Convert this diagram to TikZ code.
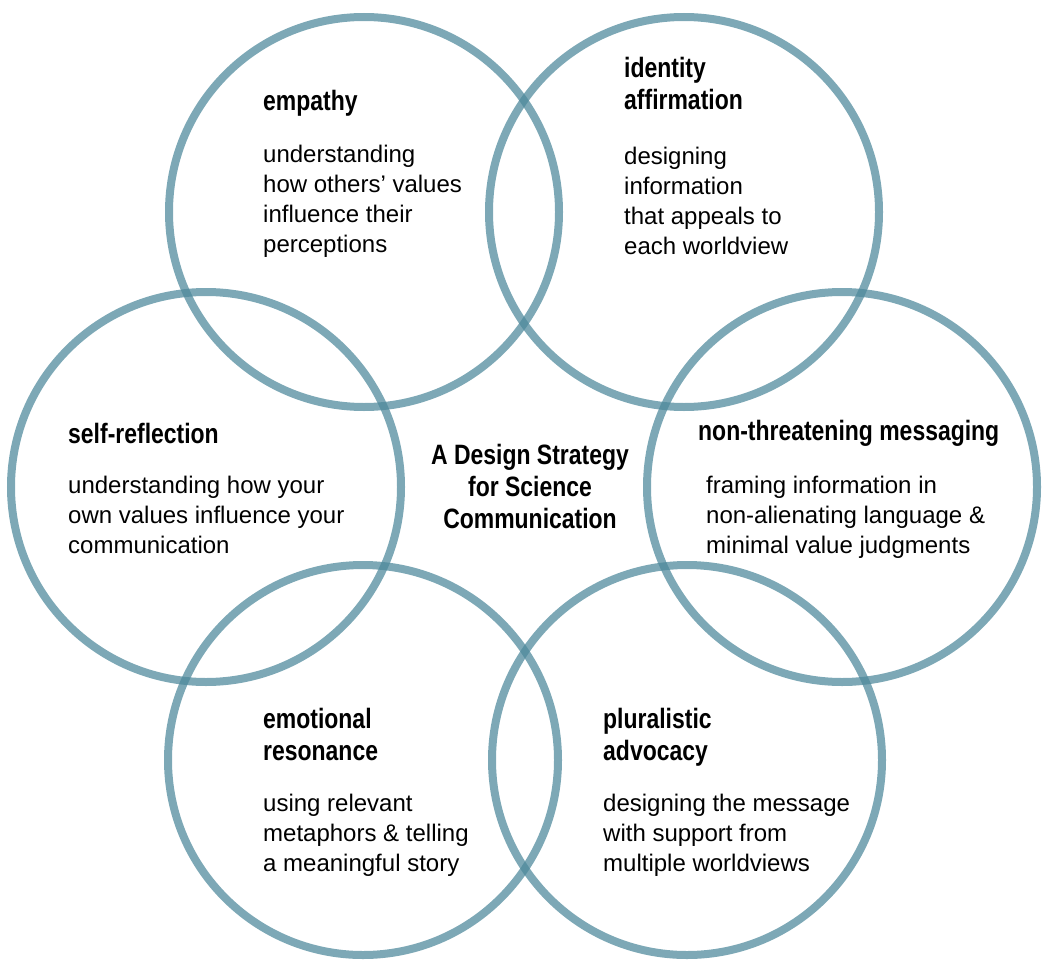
\documentclass[tikz,border=0pt]{standalone}
\usepackage{fontspec}
\setmainfont{Liberation Sans}
\newfontfamily\headfont[FakeStretch=0.82]{Liberation Sans Bold}
\usepackage{tikz}

\definecolor{ringblue}{RGB}{77,136,155}

\tikzset{
  ring/.style={draw=ringblue, draw opacity=0.73, line width=8pt},
  head/.style={anchor=west, inner sep=0pt, align=left,
    font=\headfont\fontsize{28}{32}\selectfont},
  body/.style={anchor=west, inner sep=0pt, align=left,
    font=\fontsize{24}{30}\selectfont},
}

\begin{document}
\begin{tikzpicture}[x=1pt, y=-1pt]

  \useasboundingbox (0,0) rectangle (1051,971);

  % --- six rings ---
  \draw[ring] (364,212) circle [radius=195];
  \draw[ring] (684,212) circle [radius=195];
  \draw[ring] (206,487) circle [radius=195];
  \draw[ring] (842,487) circle [radius=195];
  \draw[ring] (363,760) circle [radius=195];
  \draw[ring] (687,760) circle [radius=195];

  % --- centre title ---
  \node[head, anchor=center, align=center] (title) at (530,486)
        {A Design Strategy\\for Science\\Communication};

  % --- top left ---
  \node[head] (empathyhead) at (263,103) {empathy};
  \node[body] (empathybody) at (263,201)
        {understanding\\how others’ values\\influence their\\perceptions};

  % --- top right ---
  \node[head] (identityhead) at (624,83) {identity\\affirmation};
  \node[body] (identitybody) at (624,201)
        {designing\\information\\that appeals to\\each worldview};

  % --- left ---
  \node[head] (selfhead) at (68,433) {self-reflection};
  \node[body] (selfbody) at (68,515)
        {understanding how your\\own values influence your\\communication};

  % --- right ---
  \node[head] (nonthreathead) at (698,433) {non-threatening messaging};
  \node[body] (nonthreatbody) at (706,517)
        {framing information in\\non-alienating language \&\\minimal value judgments};

  % --- bottom left ---
  \node[head] (emotionhead) at (263,734) {emotional\\resonance};
  \node[body] (emotionbody) at (263,835)
        {using relevant\\metaphors \& telling\\a meaningful story};

  % --- bottom right ---
  \node[head] (pluralhead) at (603,737) {pluralistic\\advocacy};
  \node[body] (pluralbody) at (603,835)
        {designing the message\\with support from\\multiple worldviews};

\end{tikzpicture}
\end{document}
